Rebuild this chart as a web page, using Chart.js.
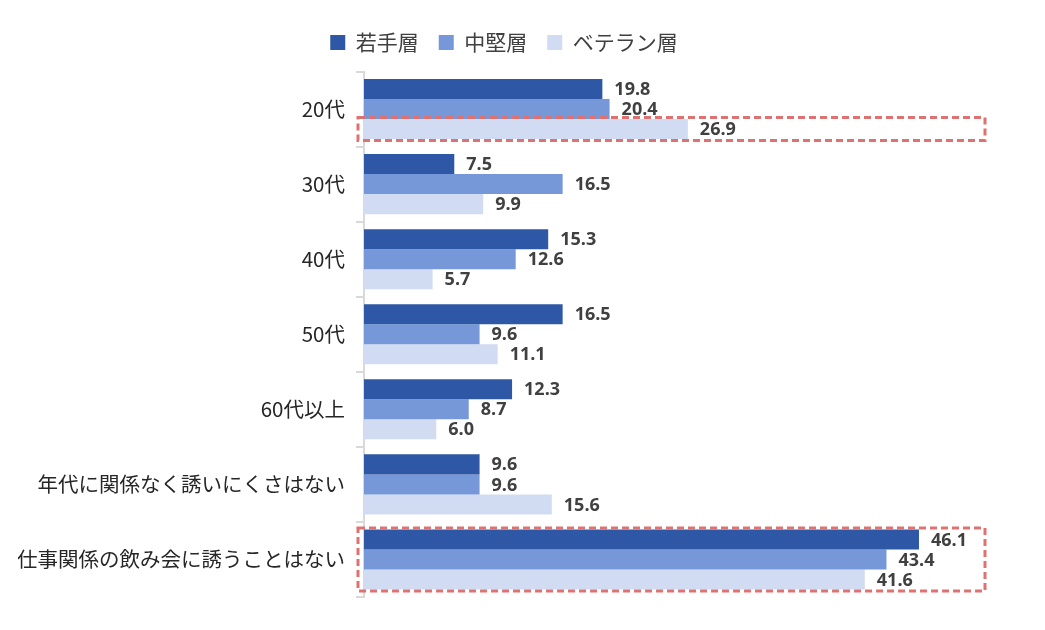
<!DOCTYPE html>
<html><head><meta charset="utf-8">
<script src="https://cdn.jsdelivr.net/npm/chart.js@4/dist/chart.umd.min.js"></script>
<style>html,body{margin:0;padding:0;background:#fff}#wrap{width:1045px;height:630px;position:relative}</style>
</head><body><div id="wrap"><canvas id="c"></canvas></div>
<script>
const categories = ["20代","30代","40代","50代","60代以上","年代に関係なく誘いにくさはない","仕事関係の飲み会に誘うことはない"];
const seriesNames = ["若手層","中堅層","ベテラン層"];
const young = [19.8,7.5,15.3,16.5,12.3,9.6,46.1];
const middle = [20.4,16.5,12.6,9.6,8.7,9.6,43.4];
const veteran = [26.9,9.9,5.7,11.1,6.0,15.6,41.6];
const colors = ["#2E58A6","#7698D8","#D1DBF1"];
// highlighted (dataset, category) groups: [datasetIndices, categoryIndex]
const highlights = [[[2],0],[[0,1,2],6]];

const FONT = "'Noto Sans CJK JP','Noto Sans',sans-serif";

const legendSpace = {
  id:'legendSpace',
  afterInit(chart){
    const lg = chart.legend;
    if(!lg) return;
    const f = lg.fit;
    lg.fit = function(){ f.call(this); this.height += 8.5; };
  }
};
const labelPlugin = {
  id:'vals',
  afterDatasetsDraw(chart){
    const ctx = chart.ctx;
    ctx.save();
    ctx.font = "bold 18px 'Open Sans','Noto Sans',sans-serif";
    ctx.fillStyle = "#404040";
    ctx.textAlign = "left";
    ctx.textBaseline = "middle";
    chart.data.datasets.forEach((ds,di)=>{
      chart.getDatasetMeta(di).data.forEach((bar,i)=>{
        ctx.fillText(ds.data[i].toFixed(1), bar.x + 12, bar.y + 1);
      });
    });
    ctx.restore();
  }
};
const boxPlugin = {
  id:'boxes',
  afterDraw(chart){
    const ctx = chart.ctx;
    const ca = chart.chartArea;
    ctx.save();
    ctx.strokeStyle = "#DE7270";
    ctx.lineWidth = 3;
    ctx.setLineDash([7,4]);
    highlights.forEach(([dsIdx,cat])=>{
      let top=Infinity,bot=-Infinity;
      dsIdx.forEach(d=>{
        const b = chart.getDatasetMeta(d).data[cat];
        top = Math.min(top, b.y - b.height/2);
        bot = Math.max(bot, b.y + b.height/2);
      });
      const left = ca.left - 6, right = ca.right - 5;
      ctx.strokeRect(left, top - 1.5, right-left, bot - top + 3);
    });
    ctx.restore();
  }
};

new Chart(document.getElementById('c'),{
  type:'bar',
  data:{
    labels:categories,
    datasets:[
      {label:seriesNames[0],data:young,backgroundColor:colors[0]},
      {label:seriesNames[1],data:middle,backgroundColor:colors[1]},
      {label:seriesNames[2],data:veteran,backgroundColor:colors[2]}
    ]
  },
  options:{
    indexAxis:'y',
    responsive:true,
    maintainAspectRatio:false,
    animation:false,
    layout:{padding:{left:18,right:55,top:12,bottom:33}},
    datasets:{bar:{categoryPercentage:0.8,barPercentage:1.0}},
    plugins:{
      legend:{
        position:'top',
        labels:{font:{size:21,family:FONT},color:'#404040',boxWidth:15,boxHeight:15,padding:20}
      },
      tooltip:{enabled:false}
    },
    scales:{
      x:{display:false,min:0,max:52},
      y:{
        border:{display:true,color:'#D9D9D9',width:2},
        grid:{display:true,drawOnChartArea:false,color:'#D9D9D9',lineWidth:2,tickLength:8,offset:true},
        ticks:{font:{size:20.5,family:FONT},color:'#262626',padding:11},
        afterFit(s){s.width = 346;}
      }
    }
  },
  plugins:[legendSpace,labelPlugin,boxPlugin]
});
</script></body></html>
